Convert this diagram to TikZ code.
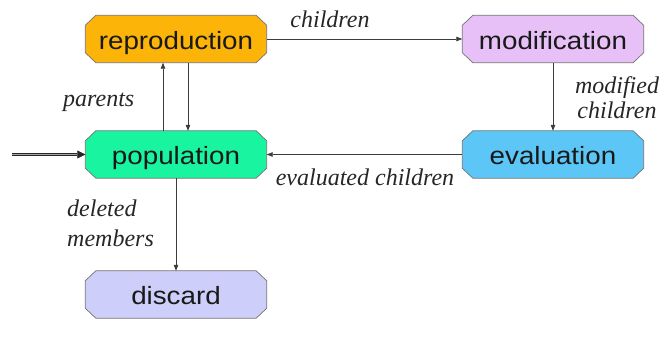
\documentclass[tikz,border=0pt]{standalone}
\usepackage{fontspec}
\setmainfont{Liberation Serif}
\setsansfont{Liberation Sans}
\usetikzlibrary{arrows.meta,backgrounds}

\definecolor{reprofill}{RGB}{252,180,8}
\definecolor{modfill}{RGB}{230,192,246}
\definecolor{popfill}{RGB}{24,244,160}
\definecolor{evalfill}{RGB}{92,198,246}
\definecolor{discfill}{RGB}{206,206,250}
\definecolor{edge}{RGB}{60,60,60}

% stage names are set wide, as in a stretched sans face
\newcommand{\stagename}[1]{\scalebox{1.11}[1]{#1}}

\tikzset{
  stagebox/.style={rectangle, inner sep=0pt,
    minimum width=181pt, minimum height=47pt,
    text height=23.5pt, text depth=3.5pt, text=black!90,
    font=\sffamily\fontsize{25}{28}\selectfont},
  stageoutline/.style={draw=black!55, line width=0.7pt, line join=miter},
  flow/.style={draw=edge, line width=0.7pt, -{Triangle[length=6pt,width=4.5pt]}},
  entry/.style={draw=black!85, line width=0.7pt, double=black!35, double distance=1.6pt,
    -{Triangle[length=8pt,width=8pt]}},
  lbl/.style={inner sep=0pt, text=black!85, font=\itshape\fontsize{24}{25}\selectfont}
}

\begin{document}
\begin{tikzpicture}[x=1pt, y=-1pt]
  \useasboundingbox (0,0) rectangle (662,351);

  % the five stages of the cycle
  \node[stagebox] (repro) at (176,39)    {\stagename{reproduction}};
  \node[stagebox] (modif) at (553,39)    {\stagename{modification}};
  \node[stagebox] (pop)   at (176,154.5) {\stagename{population}};
  \node[stagebox] (eval)  at (553,154.5) {\stagename{evaluation}};
  \node[stagebox] (disc)  at (176,294.5) {\stagename{discard}};

  % octagonal outlines behind the stage names
  \begin{pgfonlayer}{background}
    \foreach \n/\c in {repro/reprofill, modif/modfill, pop/popfill, eval/evalfill, disc/discfill}
      \draw[stageoutline, fill=\c]
        ([xshift=10.5pt]\n.north west) -- ([xshift=-10.5pt]\n.north east)
        -- ([yshift=-10pt]\n.north east) -- ([yshift=10pt]\n.south east)
        -- ([xshift=-10.5pt]\n.south east) -- ([xshift=10.5pt]\n.south west)
        -- ([yshift=10pt]\n.south west) -- ([yshift=-10pt]\n.north west) -- cycle;
  \end{pgfonlayer}

  % initial population enters from the left
  \coordinate (start) at (12,154.5);
  \draw[entry] (start) -- (pop.west);

  % connectors
  \draw[flow] (repro.east) -- (modif.west);
  \draw[flow] ([xshift=-13pt]pop.north) -- ([xshift=-13pt]repro.south);
  \draw[flow] ([xshift=12pt]repro.south) -- ([xshift=12pt]pop.north);
  \draw[flow] (modif.south) -- (eval.north);
  \draw[flow] (eval.west) -- (pop.east);
  \draw[flow] (pop.south) -- (disc.north);

  % connector labels (multi-line ones are placed by their last line)
  \node[lbl, anchor=base] (lchildren) at (330,27.5) {children};
  \node[lbl, anchor=base west] (lparents) at (63,106) {parents};
  \node[lbl, anchor=base, align=center] (lmodified) at (617,118) {modified\\children};
  \node[lbl, anchor=base] (levaluated) at (365,185) {evaluated children};
  \node[lbl, anchor=base west, align=left, font=\itshape\fontsize{24}{30}\selectfont]
    (ldeleted) at (67,246.5) {deleted\\members};
\end{tikzpicture}
\end{document}
